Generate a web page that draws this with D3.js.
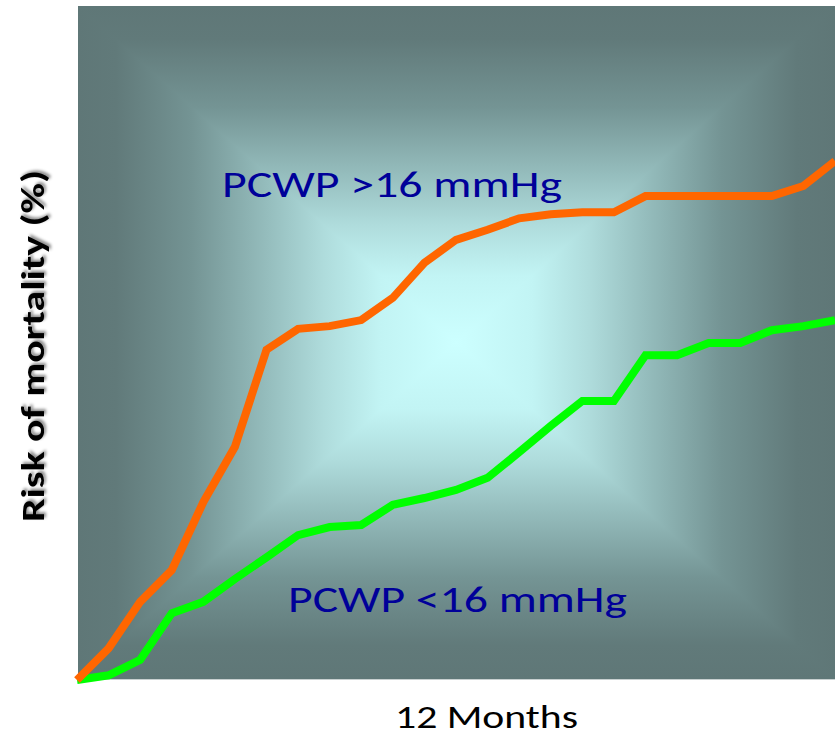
<!DOCTYPE html>
<html>
<head>
<meta charset="utf-8">
<script src="https://cdnjs.cloudflare.com/ajax/libs/d3/7.8.5/d3.min.js"></script>
<style>
  body { margin: 0; background: #fff; }
  svg { display: block; }
</style>
</head>
<body>
<svg width="835" height="736"></svg>
<script>
// half-month steps over 12 months
var months = [0, 0.5, 1, 1.5, 2, 2.5, 3, 3.5, 4, 4.5, 5, 5.5, 6, 6.5, 7, 7.5, 8, 8.5, 9, 9.5, 10, 10.5, 11, 11.5, 12];
var high = [0, 4.7, 11.6, 16.3, 26.4, 34.6, 49.0, 52.1, 52.5, 53.4, 56.7, 61.9, 65.3, 66.8, 68.5, 69.1, 69.4, 69.4, 71.8, 71.8, 71.8, 71.8, 71.8, 73.3, 77.0];
var low = [0, 0.7, 3.0, 9.9, 11.6, 15.0, 18.2, 21.5, 22.7, 23.0, 26.0, 27.0, 28.2, 30.0, 33.8, 37.7, 41.4, 41.4, 48.2, 48.2, 50.0, 50.0, 51.9, 52.5, 53.4];

var svg = d3.select("svg");
var pL = 78, pR = 835, pT = 6, pB = 679;

var x = d3.scaleLinear().domain([0, 12]).range([77, 835]);
var y = d3.scaleLinear().domain([0, 100]).range([680, 6]);

// background: rectangular path gradient, four triangles meeting in the middle
var cx = (pL + pR) / 2, cy = (pT + pB) / 2;
var defs = svg.append("defs");
var stops = [[0, "#5f7777"], [0.1, "#617a7a"], [0.3, "#749494"], [0.5, "#95bdbd"], [0.65, "#afdcdc"], [0.8, "#c2f4f4"], [1, "#ccffff"]];
var sides = [
  {id: "gt", pts: [[pL, pT], [pR, pT], [cx, cy]], x1: cx, y1: pT, x2: cx, y2: cy},
  {id: "gb", pts: [[pL, pB], [pR, pB], [cx, cy]], x1: cx, y1: pB, x2: cx, y2: cy},
  {id: "gl", pts: [[pL, pT], [pL, pB], [cx, cy]], x1: pL, y1: cy, x2: cx, y2: cy},
  {id: "gr", pts: [[pR, pT], [pR, pB], [cx, cy]], x1: pR, y1: cy, x2: cx, y2: cy}
];
sides.forEach(function(s) {
  var g = defs.append("linearGradient").attr("id", s.id).attr("gradientUnits", "userSpaceOnUse")
    .attr("x1", s.x1).attr("y1", s.y1).attr("x2", s.x2).attr("y2", s.y2);
  stops.forEach(function(st) { g.append("stop").attr("offset", st[0]).attr("stop-color", st[1]); });
  svg.append("polygon").attr("points", s.pts.join(" ")).attr("fill", "url(#" + s.id + ")")
    .attr("shape-rendering", "crispEdges");
});
svg.append("line").attr("x1", pL).attr("x2", pR).attr("y1", pB + 0.5).attr("y2", pB + 0.5)
  .attr("stroke", "#c8d0d0").attr("stroke-width", 1);

var shadow = defs.append("filter").attr("id", "shadow").attr("x", "-20%").attr("y", "-20%").attr("width", "140%").attr("height", "140%");
shadow.append("feDropShadow").attr("dx", 2).attr("dy", 2).attr("stdDeviation", 1.5).attr("flood-color", "#000").attr("flood-opacity", 0.45);

var line = d3.line().x(function(d, i) { return x(months[i]); }).y(function(d) { return y(d); });

svg.append("path").datum(low).attr("d", line).attr("fill", "none")
  .attr("stroke", "#00ff00").attr("stroke-width", 8).attr("stroke-linejoin", "miter");
svg.append("path").datum(high).attr("d", line).attr("fill", "none")
  .attr("stroke", "#ff6600").attr("stroke-width", 8).attr("stroke-linejoin", "miter");

var font = "Carlito, Calibri, 'Open Sans', sans-serif";

svg.append("text").attr("x", 222).attr("y", 197).attr("fill", "#000099")
  .style("font-family", font).style("font-size", "37px")
  .attr("textLength", 340).attr("lengthAdjust", "spacingAndGlyphs")
  .text("PCWP >16 mmHg");

svg.append("text").attr("x", 288).attr("y", 612).attr("fill", "#000099")
  .style("font-family", font).style("font-size", "37px")
  .attr("textLength", 339).attr("lengthAdjust", "spacingAndGlyphs")
  .text("PCWP <16 mmHg");

svg.append("text").attr("x", 395).attr("y", 728).attr("fill", "#000")
  .style("font-family", font).style("font-size", "33px")
  .attr("textLength", 183).attr("lengthAdjust", "spacingAndGlyphs")
  .text("12 Months");

svg.append("text").attr("transform", "translate(44, 522) rotate(-90)")
  .attr("fill", "#000").attr("filter", "url(#shadow)")
  .style("font-family", font).style("font-size", "33px").style("font-weight", "bold")
  .attr("textLength", 352).attr("lengthAdjust", "spacingAndGlyphs")
  .text("Risk of mortality (%)");
</script>
</body>
</html>
